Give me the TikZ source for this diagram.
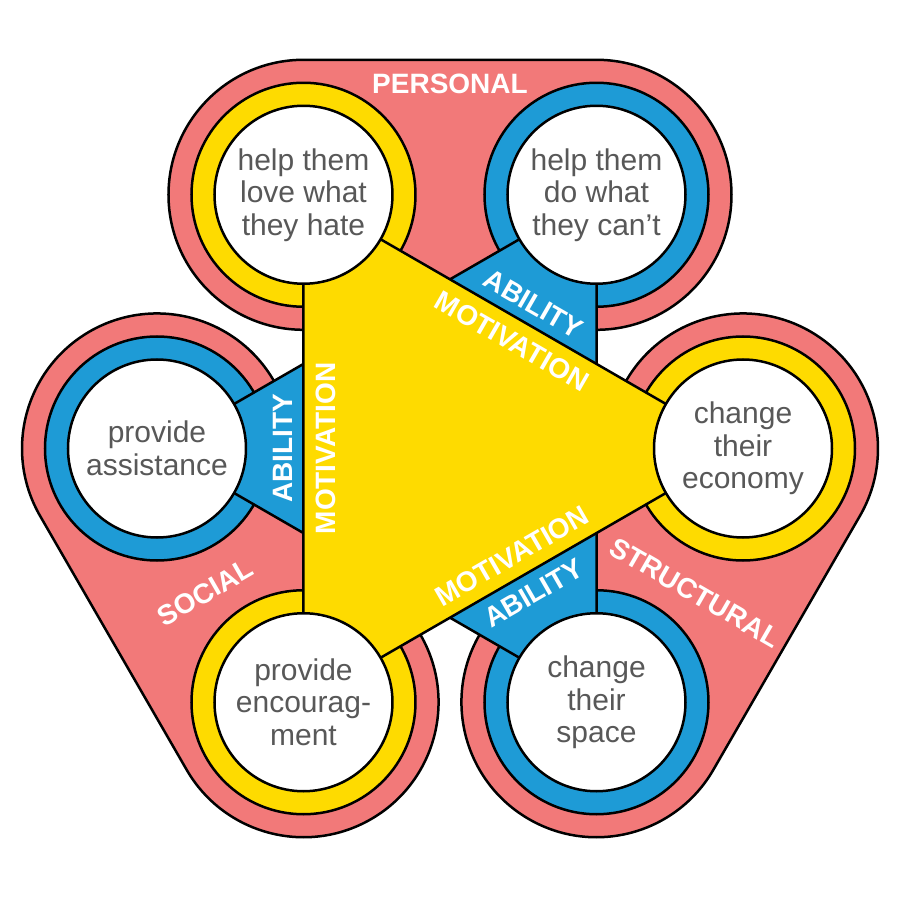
\documentclass[tikz,border=0pt]{standalone}
\usepackage{fontspec}
\setmainfont{Liberation Sans}
\definecolor{lobepink}{RGB}{242,121,121}
\definecolor{ringyellow}{RGB}{254,219,0}
\definecolor{ringblue}{RGB}{30,155,214}
\definecolor{textgray}{RGB}{88,88,88}

\begin{document}
\begin{tikzpicture}[
    x=1pt, y=1pt,
    line width=2.5pt,
    lobe/.style={draw, fill=lobepink},
    ring/.style={draw, radius=112},
    spot/.style={
        draw,
        circle,
        fill=white,
        inner sep=0pt,
        minimum size=178pt,
        align=center,
        text=textgray,
        font=\fontsize{30}{32.5}\selectfont
    },
    tag/.style={
        text=white,
        inner sep=0pt,
        font=\fontsize{28}{28}\selectfont\bfseries
    }
]

\useasboundingbox (-450,-451.5) rectangle (450,448.5);

\coordinate (tl) at (120:293);
\coordinate (tr) at (60:293);
\coordinate (rt) at (0:293);
\coordinate (br) at (-60:293);
\coordinate (bl) at (-120:293);
\coordinate (lt) at (180:293);

\foreach \a in {0,-120,120}
    \draw [lobe, rotate=\a] (-146.5,388.7) -- (146.5,388.7)
        arc [start angle=90, end angle=-90, radius=135] -- (-146.5,118.7)
        arc [start angle=270, end angle=90, radius=135] -- cycle;

\draw [ring, fill=ringyellow] (tl) circle;
\draw [ring, fill=ringblue] (tr) circle;
\draw [ring, fill=ringyellow] (rt) circle;
\draw [ring, fill=ringblue] (br) circle;
\draw [ring, fill=ringyellow] (bl) circle;
\draw [ring, fill=ringblue] (lt) circle;

\draw [fill=ringblue] (tr) -- (lt) -- (br) -- cycle;
\draw [fill=ringyellow] (tl) -- (rt) -- (bl) -- cycle;

\node [spot] (love) at (tl) {help them\\love what\\they hate};
\node [spot] (cant) at (tr) {help them\\do what\\they can’t};
\node [spot] (economy) at (rt) {change\\their\\economy};
\node [spot] (space) at (br) {change\\their\\space};
\node [spot] (encourage) at (bl) {provide\\encourag-\\ment};
\node [spot] (assist) at (lt) {provide\\assistance};

\node [tag] (personal) at (0,364.5) {PERSONAL};
\node [tag, rotate=30] (social) at (-245,-144) {SOCIAL};
\node [tag, rotate=-30] (structural) at (245,-144) {STRUCTURAL};

\node [tag, rotate=90] (abilityl) at (180:167) {ABILITY};
\node [tag, rotate=90] (motivationl) at (180:124) {MOTIVATION};
\node [tag, rotate=-30] (abilityt) at (60:167) {ABILITY};
\node [tag, rotate=-30] (motivationt) at (60:124) {MOTIVATION};
\node [tag, rotate=30] (abilityb) at (-60:167) {ABILITY};
\node [tag, rotate=30] (motivationb) at (-60:124) {MOTIVATION};

\end{tikzpicture}
\end{document}
